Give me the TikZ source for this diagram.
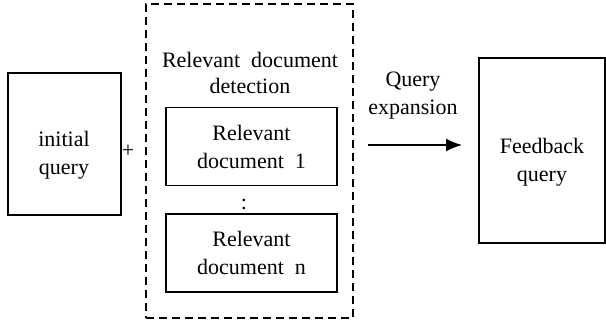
\documentclass[tikz,border=0pt]{standalone}
\usepackage{fontspec}
\setmainfont{Liberation Serif}
\usetikzlibrary{positioning, shapes, arrows.meta}

\begin{document}
\begin{tikzpicture}[x=0.5pt,y=-0.5pt,
font=\fontsize{11}{14}\selectfont,
mybox/.style={draw,line width=0.9pt,align=center,inner sep=0pt},
docbox/.style={mybox,minimum width=85.5pt,minimum height=39pt},
group/.style={draw,line width=0.9pt,dash pattern=on 4pt off 2.5pt,inner sep=0pt},
label/.style={align=center,inner sep=0pt}
]
\useasboundingbox (0,0) rectangle (606,322);
% boxes
\node[mybox,minimum width=56.5pt,minimum height=71pt] (initial) at (64.5,144) {};
\node[group,minimum width=103.5pt,minimum height=157pt] (detect) at (249.5,161) {};
\node[docbox] (doc1) at (251.5,146.5) {Relevant\\document~~1};
\node[docbox] (docn) at (251.5,253) {Relevant\\document~~n};
\node[mybox,minimum width=63pt,minimum height=92.5pt] (feedback) at (542,150.5) {};
% texts
\node[label] (initialtext) at (64,155) {initial\\query};
\node[label] (plus) at (128,151) {+};
\node[label,font=\fontsize{11}{13}\selectfont] (title) at (250,73) {Relevant~~document\\detection};
\node[label] (dots) at (244,204) {:};
\node[label] (expand) at (413,96) {Query\\expansion};
\node[label] (feedbacktext) at (542,162) {Feedback\\query};
\coordinate (qs) at (368,145);
\draw[-{Latex[length=8pt,width=6.5pt]},line width=0.9pt,shorten >=8pt] (qs) -- (qs -| feedback.west);
\end{tikzpicture}
\end{document}
